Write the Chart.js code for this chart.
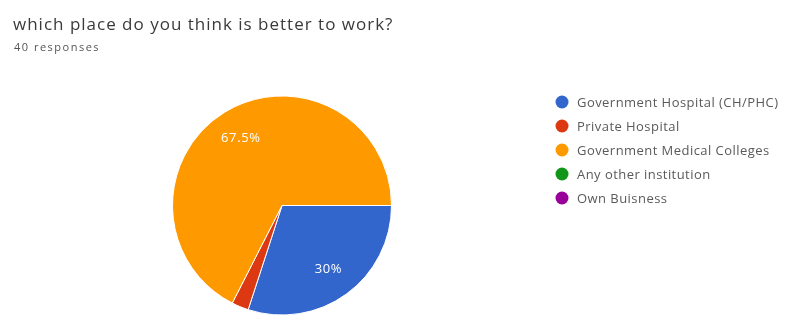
<!DOCTYPE html>
<html>
<head>
<meta charset="utf-8">
<script src="https://cdn.jsdelivr.net/npm/chart.js@4"></script>
<style>
  html, body { margin: 0; padding: 0; background: #fff; }
  #wrap { position: relative; width: 788px; height: 327px; }
  #title { position: absolute; left: 13px; top: 12px; font: 17px/24px "Open Sans", Arial, sans-serif; letter-spacing: 1px; color: #3a3a3a; white-space: nowrap; }
  #sub { position: absolute; left: 14px; top: 39px; font: 11px/16px "Open Sans", Arial, sans-serif; letter-spacing: 1.5px; color: #555; white-space: nowrap; }
  canvas { position: absolute; left: 0; top: 0; }
</style>
</head>
<body>
<div id="wrap">
  <canvas id="c" width="788" height="327"></canvas>
  <div id="title">which place do you think is better to work?</div>
  <div id="sub">40 responses</div>
</div>
<script>
const categories = [
  'Government Hospital (CH/PHC)',
  'Private Hospital',
  'Government Medical Colleges',
  'Any other institution',
  'Own Buisness'
];
const shares = [30, 2.5, 67.5, 0, 0];
const colors = ['#3366cc', '#dc3912', '#ff9900', '#109618', '#990099'];

// Percent labels inside the larger slices
const sliceLabels = {
  id: 'sliceLabels',
  afterDatasetsDraw(chart) {
    const ctx = chart.ctx;
    const meta = chart.getDatasetMeta(0);
    ctx.save();
    ctx.font = '13px "Open Sans", Arial, sans-serif';
    ctx.letterSpacing = '0.6px';
    ctx.fillStyle = '#ffffff';
    ctx.textAlign = 'center';
    ctx.textBaseline = 'middle';
    meta.data.forEach((arc, i) => {
      const v = shares[i];
      if (v < 5) return;
      const mid = (arc.startAngle + arc.endAngle) / 2;
      const r = arc.outerRadius * 0.72;
      ctx.fillText(v + '%', arc.x + Math.cos(mid) * r, arc.y + Math.sin(mid) * r);
    });
    ctx.restore();
  }
};

// Legend column to the right of the pie
const sideLegend = {
  id: 'sideLegend',
  afterDraw(chart) {
    const ctx = chart.ctx;
    ctx.save();
    ctx.font = '13px "Open Sans", Arial, sans-serif';
    ctx.letterSpacing = '0.45px';
    ctx.textBaseline = 'middle';
    categories.forEach((name, i) => {
      const y = 102 + i * 24;
      ctx.beginPath();
      ctx.arc(562, y, 6.5, 0, Math.PI * 2);
      ctx.fillStyle = colors[i];
      ctx.fill();
      ctx.fillStyle = '#5a5a5a';
      ctx.fillText(name, 577, y + 1);
    });
    ctx.restore();
  }
};

new Chart(document.getElementById('c'), {
  type: 'pie',
  data: {
    labels: categories,
    datasets: [{
      data: shares,
      backgroundColor: colors,
      borderColor: '#ffffff',
      borderWidth: 1
    }]
  },
  options: {
    responsive: false,
    animation: false,
    rotation: 90,
    layout: { padding: { left: 172, right: 396, top: 95, bottom: 11 } },
    plugins: {
      legend: { display: false },
      tooltip: { enabled: false }
    }
  },
  plugins: [sliceLabels, sideLegend]
});
</script>
</body>
</html>
